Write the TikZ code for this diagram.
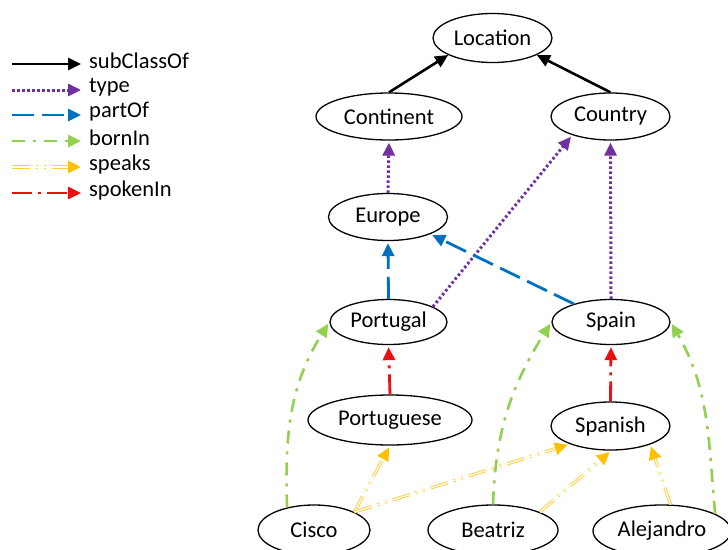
\documentclass[tikz,border=0pt]{standalone}
\usepackage{fontspec}
\setmainfont{Carlito}
\usetikzlibrary{arrows.meta,shapes.geometric}
\definecolor{cpurple}{HTML}{7030A0}
\definecolor{cblue}{HTML}{0070C0}
\definecolor{cgreen}{HTML}{92D050}
\definecolor{cyellow}{HTML}{FFC000}
\definecolor{cyline}{HTML}{FFCF40}
\definecolor{cred}{HTML}{E81010}
\tikzset{
  x=1pt,y=-1pt,
  ent/.style={ellipse,draw,line width=1.3pt,inner sep=0pt,font=\fontsize{22.5}{26}\selectfont},
  lbl/.style={anchor=west,inner sep=0pt,font=\fontsize{22.5}{26}\selectfont},
  subcls/.style={line width=2.6pt,-{Triangle[length=13pt,width=12pt]}},
  typ/.style={cpurple,line width=3pt,dash pattern=on 2.5pt off 2.5pt,-{Triangle[length=13pt,width=12pt,fill=cpurple]},shorten >=2pt},
  partof/.style={cblue,line width=2.8pt,dash pattern=on 22pt off 8pt,-{Triangle[length=13pt,width=12pt,fill=cblue]},shorten >=2pt},
  bornin/.style={cgreen,line width=2.6pt,dash pattern=on 13pt off 8pt on 3pt off 8pt,-{Triangle[length=13pt,width=12pt,fill=cgreen]},shorten >=2pt},
  speaks/.style={cyline,line width=3.2pt,dash pattern=on 18pt off 6pt on 2pt off 6pt on 2pt off 6pt,-{Triangle[length=13pt,width=12pt,fill=cyellow,color=cyellow]},shorten >=2pt,
    postaction={draw=white,line width=1.2pt,-,shorten >=15pt}},
  speaksleg/.style={speaks,shorten >=0pt,postaction={draw=white,line width=1.2pt,-,shorten >=13pt}},
  spokenin/.style={cred,line width=2.8pt,dash pattern=on 20pt off 6pt on 3pt off 6pt,-{Triangle[length=13pt,width=12pt,fill=cred]},shorten >=2pt},
}
\begin{document}
\begin{tikzpicture}
\useasboundingbox (0,0) rectangle (728,549);
% nodes
\node[ent,minimum width=119pt,minimum height=49pt] (loc) at (492.5,38) {Location};
\node[ent,minimum width=146pt,minimum height=47pt] (cont) at (389,116.5) {Continent};
\node[ent,minimum width=119pt,minimum height=47pt] (ctry) at (610.5,116.5) {Country};
\node[ent,minimum width=119pt,minimum height=47pt] (eur) at (388,217) {Europe};
\node[ent,minimum width=117pt,minimum height=45pt] (port) at (388.5,322) {Portugal};
\node[ent,minimum width=118pt,minimum height=45pt] (spain) at (611,322) {Spain};
\node[ent,minimum width=164pt,minimum height=50pt] (ptg) at (390,420) {Portuguese};
\node[ent,minimum width=119pt,minimum height=48pt] (spanish) at (610.5,426) {Spanish};
\node[ent,minimum width=112pt,minimum height=50pt] (cisco) at (314,530) {Cisco};
\node[ent,minimum width=130pt,minimum height=50pt] (beatriz) at (493,530) {Beatriz};
\node[ent,minimum width=138pt,minimum height=52pt] (alej) at (662,531) {Alejandro};
% subClassOf
\draw[subcls] (cont.north) -- (loc.201);
\draw[subcls] (ctry.north) -- (loc.339);
% type
\draw[typ] (eur.north) -- (cont.south);
\draw[typ] (port.19) -- (ctry.206);
\draw[typ] (spain.north) -- (ctry.south);
% partOf
\draw[partof] (port.north) -- (eur.south);
\draw[partof] (spain.154) -- (eur.338);
% spokenIn
\draw[spokenin] (ptg.north) -- (port.south);
\draw[spokenin] (spanish.north) -- (spain.south);
% bornIn
\draw[bornin] (cisco.140) to[out=92,in=238] (port.west);
\draw[bornin] (beatriz.north) to[out=88,in=238] (spain.west);
\draw[bornin] (alej.18) to[out=95,in=300] (spain.east);
% speaks
\draw[speaks] (cisco.24) -- (ptg.south);
\draw[speaks] (cisco.24) -- (spanish.204);
\draw[speaks] (beatriz.21) -- (spanish.272);
\draw[speaks] (alej.72) -- (spanish.335);
% legend
\foreach \i/\y in {1/64,2/90,3/115,4/141,5/167,6/193}{
  \coordinate (ls\i) at (12,\y);
  \coordinate (le\i) at (81,\y);
}
\draw[subcls] (ls1) -- (le1);
\draw[typ,shorten >=0pt] (ls2) -- (le2);
\draw[partof,shorten >=0pt] (ls3) -- (le3);
\draw[bornin,shorten >=0pt] (ls4) -- (le4);
\draw[speaksleg] (ls5) -- (le5);
\draw[spokenin,shorten >=0pt] (ls6) -- (le6);
\node[lbl] (t1) at (89,61) {subClassOf};
\node[lbl] (t2) at (89,87) {type};
\node[lbl] (t3) at (89,112) {partOf};
\node[lbl] (t4) at (89,138) {bornIn};
\node[lbl] (t5) at (89,164) {speaks};
\node[lbl] (t6) at (89,190) {spokenIn};
\end{tikzpicture}
\end{document}
